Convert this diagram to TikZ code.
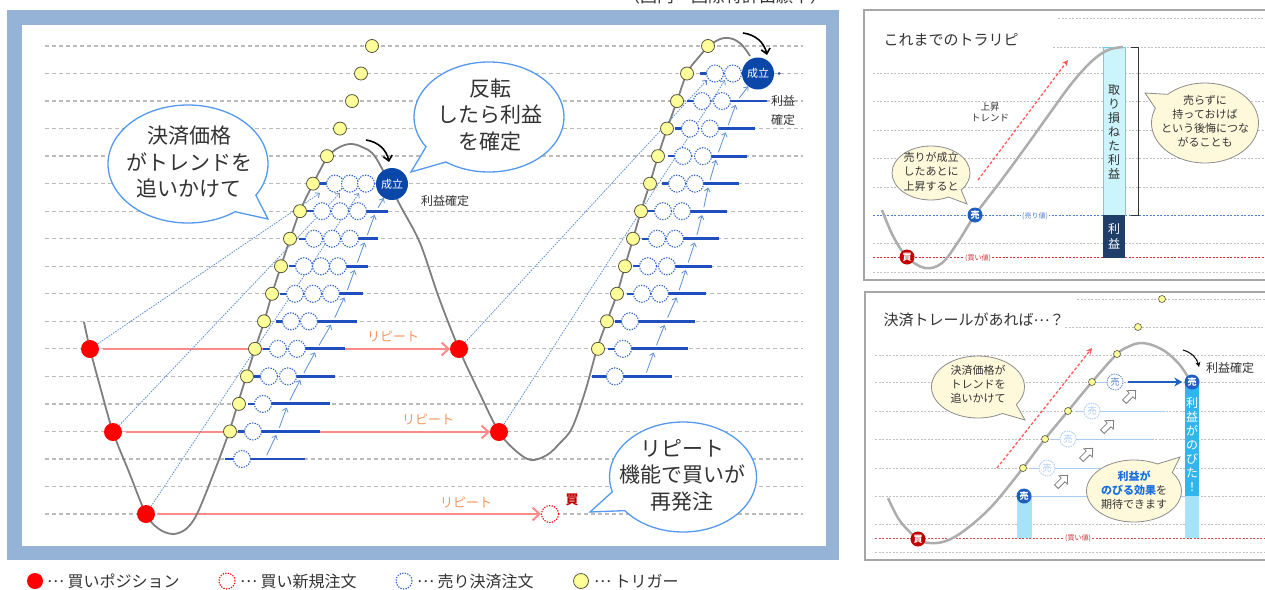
\documentclass[tikz,border=0pt]{standalone}
\usepackage{fontspec}
\setmainfont{Noto Sans CJK JP}
\usetikzlibrary{arrows.meta,shapes.callouts,shapes.arrows,shapes.geometric}
\definecolor{frameblue}{HTML}{95B3D7}
\definecolor{gridgray}{HTML}{BBBBBB}
\definecolor{curvegray}{HTML}{7F7F7F}
\definecolor{trigfill}{HTML}{FFFF99}
\definecolor{trigdraw}{HTML}{55553F}
\definecolor{buyred}{HTML}{FF0000}
\definecolor{replinecol}{HTML}{FF8A8A}
\definecolor{replabelcol}{HTML}{F5965E}
\definecolor{sellblue}{HTML}{2A62C8}
\definecolor{linblue}{HTML}{1F4FBF}
\definecolor{thinblue}{HTML}{5B8FD0}
\definecolor{seiritsucol}{HTML}{0A47A8}
\definecolor{bubbleline}{HTML}{5599EE}
\definecolor{textgray}{HTML}{333333}
\definecolor{panelgray}{HTML}{A6A6A6}
\definecolor{dotgray}{HTML}{C0C0C0}
\definecolor{pcurve}{HTML}{ADADAD}
\definecolor{kaired}{HTML}{C00000}
\definecolor{urblue}{HTML}{1F5FBF}
\definecolor{barlight}{HTML}{CCF4FC}
\definecolor{barlightdraw}{HTML}{66D0EE}
\definecolor{bardark}{HTML}{1F3F6A}
\definecolor{yelbub}{HTML}{FFF9DC}
\definecolor{bubdraw}{HTML}{8C8C8C}
\definecolor{cyanbar}{HTML}{30B6EC}
\definecolor{cyanlight}{HTML}{A6E2F8}
\definecolor{trailblue}{HTML}{A8CCF4}
\definecolor{hiblue}{HTML}{1A6FDF}
\definecolor{trendred}{HTML}{FF5A5A}
\newcommand\jdots{\raisebox{0.3em}{…}}
\begin{document}
\begin{tikzpicture}[x=1pt,y=-1pt,
  gridln/.style={draw=gridgray,line width=1.3pt,dash pattern=on 4pt off 3pt},
  crv/.style={draw=curvegray,line width=1.8pt},
  trg/.style={circle,fill=trigfill,draw=trigdraw,line width=0.8pt,minimum size=13pt,inner sep=0pt},
  buydot/.style={circle,fill=buyred,minimum size=18pt,inner sep=0pt},
  newbuy/.style={circle,draw=buyred,line width=1.1pt,dash pattern=on 1.3pt off 1.3pt,fill=white,minimum size=17pt,inner sep=0pt},
  sellc/.style={circle,draw=sellblue,line width=1.1pt,dash pattern=on 1.3pt off 1.3pt,fill=white,minimum size=17pt,inner sep=0pt},
  sellline/.style={draw=linblue,line width=2.8pt},
  selltick/.style={draw=linblue,line width=2.4pt},
  chainarrow/.style={draw=thinblue,line width=0.8pt,-{Straight Barb[length=3.5pt,width=6pt]},shorten <=4pt,shorten >=4pt},
  longdot/.style={draw=thinblue,line width=0.8pt,dash pattern=on 1.5pt off 1.2pt,-{Straight Barb[length=3.5pt,width=6pt]}},
  repln/.style={draw=replinecol,line width=2.6pt,-{Straight Barb[length=7pt,width=13pt,line width=2pt]}},
  replbl/.style={text=replabelcol,font=\fontsize{13}{14}\selectfont},
  seir/.style={circle,fill=seiritsucol,text=white,minimum size=32pt,inner sep=0pt,font=\fontsize{11}{12}\selectfont},
  blackarc/.style={draw=black,line width=1.6pt,-{Straight Barb[length=5pt,width=9pt]}},
  bub/.style={ellipse callout,draw=bubbleline,fill=white,line width=1.3pt,inner sep=0pt,callout pointer arc=22},
  bubtext/.style={align=center,text=textgray,font=\fontsize{21}{26.5}\selectfont,inner sep=0pt},
  legtext/.style={anchor=west,text=textgray,font=\fontsize{16}{18}\selectfont,inner sep=0pt},
  panelbox/.style={draw=panelgray,line width=2pt,fill=white},
  pdot/.style={draw=dotgray,line width=0.8pt,dash pattern=on 2pt off 1.5pt},
  pcrv/.style={draw=pcurve,line width=2.5pt},
  ybub/.style={ellipse callout,draw=bubdraw,fill=yelbub,line width=0.8pt,inner sep=0pt,callout pointer arc=24},
  ybtext/.style={align=center,text=textgray,font=\fontsize{11}{14.5}\selectfont,inner sep=0pt},
  kaic/.style={circle,fill=kaired,text=white,minimum size=15pt,inner sep=0pt,font=\fontsize{9}{9}\selectfont\bfseries},
  uric/.style={circle,fill=urblue,text=white,minimum size=15pt,inner sep=0pt,font=\fontsize{9}{9}\selectfont\bfseries},
  urdash/.style={circle,draw=trailblue,dash pattern=on 1.5pt off 1pt,line width=0.9pt,fill=white,text=trailblue,minimum size=16pt,inner sep=0pt,font=\fontsize{9}{9}\selectfont},
  trgs/.style={circle,fill=trigfill,draw=trigdraw,line width=0.6pt,minimum size=7pt,inner sep=0pt},
  vtext/.style={align=center,inner sep=0pt,font=\fontsize{12}{14}\selectfont},
  pricelbl/.style={fill=white,inner sep=1.5pt,font=\fontsize{7}{8}\selectfont},
  trendarr/.style={draw=trendred,line width=1.3pt,dash pattern=on 3pt off 2pt,-{Stealth[length=6pt,width=6pt]}},
  hollowarr/.style={draw=gray,fill=white,line width=0.8pt,line join=miter}
]
\useasboundingbox (0,0) rectangle (1265,589);
\fill[white] (0,0) rectangle (1265,589);
% caption (cut at top, as in the reference)
\node[font=\fontsize{17}{18}\selectfont,text=textgray] (cap) at (725,-4) {（国内・国際特許出願中）};
% ===== main frame =====
\fill[frameblue] (7,10) rectangle (839,560);
\fill[white] (22,25) rectangle (826,546);
\foreach \k in {0,...,17} \draw[gridln] (45,46+27.53*\k) -- (803,46+27.53*\k);
% positions
\coordinate (p1) at (90,349);
\coordinate (p2) at (113,432);
\coordinate (p3) at (146,514);
\coordinate (p4) at (459,349);
\coordinate (p5) at (499,432);
\coordinate (p6) at (550,514);
% repeat lines
\draw[repln,shorten <=13pt,shorten >=9pt] (p1) -- (p4);
\draw[repln,shorten <=13pt,shorten >=9pt] (p2) -- (p5);
\draw[repln,shorten <=12pt,shorten >=9pt] (p3) -- (p6);
\node[replbl] (rl1) at (393,336) {リピート};
\node[replbl] (rl2) at (428,419) {リピート};
\node[replbl] (rl3) at (466,502) {リピート};
% price curve
\draw[crv] plot[smooth,tension=0.55] coordinates {(84,322) (90,349) (101,390) (113,432) (129,472) (146,514) (159,529) (173,534) (186,529) (197,514) (213,475) (229,432) (242,390) (255,349) (264,322) (272,294) (281,266) (290,239) (300,211) (313,184) (327,158) (338,148) (350,144) (362,147) (376,158) (400,205) (420,243) (439,298) (459,349) (479,392) (499,432) (516,451) (531,460) (547,455) (560,443) (572,428) (585,392) (597,349) (607,321) (617,294) (625,266) (633,239) (641,211) (650,183) (658,156) (667,129) (677,101) (687,73) (698,58) (708,47) (716,41) (724,38) (733,39) (742,45) (750,56)};
% long dotted lines
\coordinate (e1) at (320,193);
\coordinate (e2) at (340,193);
\coordinate (e3) at (359,193);
\coordinate (e4) at (707,80);
\coordinate (e5) at (725,80);
\draw[longdot,shorten <=9pt] (p1) -- (e1);
\draw[longdot,shorten <=9pt] (p2) -- (e2);
\draw[longdot,shorten <=9pt] (p3) -- (e3);
\draw[longdot,shorten <=9pt] (p4) -- (e4);
\draw[longdot,shorten <=9pt] (p5) -- (e5);
% ===== wave 1 sell rows =====
\foreach \k/\a/\b in {6/358/388,7/350/378,8/338/368,9/331/363,10/309/357,11/297/345,12/288/335,13/263/330,14/253/320,15/242/305}{
  \coordinate (ls1-\k) at (\a,46+27.53*\k);
  \coordinate (le1-\k) at (\b,46+27.53*\k);
  \draw[sellline] (ls1-\k) -- (le1-\k);}
\foreach \k/\a in {5/335,6/322,7/314,8/304,9/295,10/291,11/278,12/269,13/263,14/253}{
  \coordinate (ts1-\k) at (\a-15,46+27.53*\k);
  \coordinate (te1-\k) at (\a-8,46+27.53*\k);
  \draw[selltick] (ts1-\k) -- (te1-\k);}
\coordinate (ts1-15) at (225,46+27.53*15);
\coordinate (te1-15) at (234,46+27.53*15);
\draw[selltick] (ts1-15) -- (te1-15);
\foreach \k/\x in {5/335,5/350,5/366,6/322,6/340,6/358,7/314,7/332,7/350,8/304,8/321,8/338,9/295,9/313,9/331,10/291,10/309,11/278,11/297,12/269,12/288,13/263,14/253,15/242}
  \node[sellc] (sc1-\k-\x) at (\x,46+27.53*\k) {};
% wave 2 sell rows
\foreach \k/\a/\b in {2/722/767,3/710/755,4/703/747,5/695/739,6/682/727,7/675/719,8/667/712,9/660/706,10/630/695,11/623/688,12/615/672}{
  \coordinate (ls2-\k) at (\a,46+27.53*\k);
  \coordinate (le2-\k) at (\b,46+27.53*\k);
  \draw[sellline] (ls2-\k) -- (le2-\k);}
\foreach \k/\a in {1/715,2/702,3/690,4/683,5/677,6/663,7/657,8/648,9/642,10/630,11/623}{
  \coordinate (ts2-\k) at (\a-15,46+27.53*\k);
  \coordinate (te2-\k) at (\a-8,46+27.53*\k);
  \draw[selltick] (ts2-\k) -- (te2-\k);}
\coordinate (ts2-12) at (592,46+27.53*12);
\coordinate (te2-12) at (607,46+27.53*12);
\draw[selltick] (ts2-12) -- (te2-12);
\foreach \k/\x in {1/715,1/733,2/702,2/722,3/690,3/710,4/683,4/703,5/677,5/695,6/663,6/682,7/657,7/675,8/648,8/667,9/642,9/660,10/630,11/623,12/615}
  \node[sellc] (sc2-\k-\x) at (\x,46+27.53*\k) {};
% seiritsu circles
\node[seir] (s1) at (392,184) {成立};
\node[seir] (s2) at (758,73.5) {成立};
\node[circle,fill=linblue,minimum size=3pt,inner sep=0pt] (sd2) at (779,73.5) {};
% chain arrows
\foreach \k/\x in {15/265,14/278,13/288,12/302,11/317,10/333,9/346,8/356,7/366,6/376}
  \coordinate (a1-\k) at (\x,46+27.53*\k);
\foreach \k/\kk in {15/14,14/13,13/12,12/11,11/10,10/9,9/8,8/7,7/6}
  \draw[chainarrow] (a1-\k) -- (a1-\kk);
\draw[chainarrow,shorten >=0pt] (a1-6) -- (s1);
\foreach \k/\x in {12/645,11/655,10/666,9/678,8/687,7/696,6/703,5/709,4/717,3/727,2/737}
  \coordinate (a2-\k) at (\x,46+27.53*\k);
\foreach \k/\kk in {12/11,11/10,10/9,9/8,8/7,7/6,6/5,5/4,4/3,3/2}
  \draw[chainarrow] (a2-\k) -- (a2-\kk);
\draw[chainarrow,shorten >=0pt] (a2-2) -- (s2);
% triggers
\foreach \k/\x in {0/372,1/361,2/352,3/340,4/327,5/313,6/300,7/290,8/281,9/272,10/264,11/255,12/247,13/239,14/230}
  \node[trg] (tg1-\k) at (\x,46+27.53*\k) {};
\foreach \k/\x in {0/708,1/687,2/677,3/667,4/658,5/650,6/641,7/633,8/625,9/617,10/607,11/598}
  \node[trg] (tg2-\k) at (\x,46+27.53*\k) {};
% buy positions
\node[buydot] (rp1) at (p1) {};
\node[buydot] (rp2) at (p2) {};
\node[buydot] (rp3) at (p3) {};
\node[buydot] (rp4) at (p4) {};
\node[buydot] (rp5) at (p5) {};
\node[newbuy] (rp6) at (p6) {};
\node[text=kaired,font=\fontsize{13}{14}\selectfont\bfseries] (kai) at (572,500) {買};
% black arcs and labels
\coordinate (ba1s) at (366,140);
\coordinate (ba1e) at (389,162);
\draw[blackarc] (ba1s) to[bend left=35] (ba1e);
\coordinate (ba2s) at (743,33);
\coordinate (ba2e) at (767,55);
\draw[blackarc] (ba2s) to[bend left=35] (ba2e);
\node[text=textgray,font=\fontsize{12}{13}\selectfont] (rk1) at (445,201) {利益確定};
\node[text=textgray,align=center,font=\fontsize{12}{19}\selectfont] (rk2) at (783,110) {利益\\確定};
% bubbles
\node[bub,minimum width=160pt,minimum height=118pt,callout absolute pointer={(268,219)}] (b1) at (188,164) {};
\node[bubtext] (b1t) at (189,162) {決済価格\\がトレンドを\\追いかけて};
\node[bub,minimum width=150pt,minimum height=110pt,callout absolute pointer={(411,172)}] (b2) at (489,117) {};
\node[bubtext] (b2t) at (490,115) {反転\\したら利益\\を確定};
\node[bub,minimum width=147pt,minimum height=110pt,callout absolute pointer={(590,512)}] (b3) at (683,477) {};
\node[bubtext] (b3t) at (682,475) {リピート\\機能で買いが\\再発注};
% legend
\node[buydot,minimum size=16pt] (lg1) at (35,581) {};
\node[legtext] (lg1t) at (47,581) {\jdots\ 買いポジション};
\node[newbuy,minimum size=16pt] (lg2) at (227,581) {};
\node[legtext] (lg2t) at (240,581) {\jdots\ 買い新規注文};
\node[sellc,minimum size=16pt] (lg3) at (404,581) {};
\node[legtext] (lg3t) at (417,581) {\jdots\ 売り決済注文};
\node[trg,minimum size=15pt] (lg4) at (581,581) {};
\node[legtext] (lg4t) at (594,581) {\jdots\ トリガー};
% ===== panel 1 =====
\draw[panelbox] (864,10) rectangle (1280,280);
\node[anchor=west,text=textgray,font=\fontsize{15}{16}\selectfont] (pt1) at (880,40) {これまでのトラリピ};
\foreach \y/\xs in {18/1058,47/1053,73/873,101/873,130/873,158/873,187/873,243/873,272/873}
  \draw[pdot] (\xs,\y) -- (1265,\y);
\draw[pdot,draw=urblue!80] (873,215) -- (1265,215);
\draw[pdot,draw=kaired!80] (873,257) -- (1265,257);
\node[pricelbl,text=urblue!80] (pl1) at (1035,216) {(売り値)};
\node[pricelbl,text=kaired!80] (pl2) at (978,258) {(買い値)};
\fill[barlight,draw=barlightdraw,line width=0.6pt] (1103,47) rectangle (1125,215);
\fill[bardark] (1103,215) rectangle (1125,258);
\node[vtext,text=textgray] (vt1) at (1114,132) {取\\り\\損\\ね\\た\\利\\益};
\node[vtext,text=white,font=\fontsize{12}{15}\selectfont] (vt2) at (1114,236) {利\\益};
\draw[draw=textgray,line width=0.6pt] (1131,47) -- (1138,47) -- (1138,215) -- (1131,215);
\draw[pcrv] plot[smooth,tension=0.6] coordinates {(882,210) (893,236) (907,257) (925,268) (942,263) (958,242) (975,215) (1000,182) (1025,148) (1050,113) (1072,83) (1092,61) (1108,50) (1123,47)};
\coordinate (tr1s) at (978,180);
\coordinate (tr1e) at (1068,60);
\draw[trendarr] (tr1s) -- (tr1e);
\node[align=center,text=textgray,font=\fontsize{9.5}{11}\selectfont] (jt) at (990,112) {上昇\\トレンド};
\node[kaic] (pk1) at (907,257) {買};
\node[uric] (pu1) at (975,215) {売};
\node[ybub,minimum width=78pt,minimum height=54pt,callout absolute pointer={(967,204)}] (yb1) at (931,173) {};
\node[ybtext] (yb1t) at (931,171.5) {売りが成立\\したあとに\\上昇すると};
\node[ybub,minimum width=107pt,minimum height=80pt,callout absolute pointer={(1145,93)}] (yb2) at (1205,123) {};
\node[ybtext,font=\fontsize{11}{14}\selectfont] (yb2t) at (1205,121) {売らずに\\持っておけば\\という後悔につな\\がることも};
% ===== panel 2 =====
\draw[panelbox] (865,292) rectangle (1280,560);
\node[anchor=west,text=textgray,font=\fontsize{15}{16}\selectfont] (pt2) at (880,320) {決済トレールがあれば\jdots ？};
\foreach \y/\xs in {299/1077,327/1065,355/875,382/875,411/875,439/875,468/875,496/875,524/875,552/875}
  \draw[pdot] (\xs,\y) -- (1265,\y);
\draw[pdot,draw=kaired!70] (875,538) -- (1265,538);
\node[pricelbl,text=kaired!80] (pl3) at (1078,538) {(買い値)};
\fill[cyanlight] (1017,496) rectangle (1032,538);
\fill[cyanbar] (1185,382) rectangle (1199,496);
\fill[cyanlight] (1185,496) rectangle (1199,538);
\node[vtext,text=white] (vt3) at (1192,445) {利\\益\\が\\の\\び\\た\\！};
% trail rows
\coordinate (tl1s) at (1024,496);
\coordinate (tl1e) at (1185,496);
\draw[draw=trailblue,line width=1pt] (tl1s) -- (tl1e);
\foreach \n/\y/\xa/\xb in {2/468/1030/1150,3/439/1052/1152,4/411/1075/1165}{
  \coordinate (tls-\n) at (\xa,\y);
  \coordinate (tle-\n) at (\xb,\y);
  \draw[draw=trailblue,line width=1pt] (tls-\n) -- (tle-\n);}
\coordinate (tls-5) at (1097,382);
\coordinate (tle-5) at (1123,382);
\draw[draw=trailblue,line width=1pt] (tls-5) -- (tle-5);
\draw[pcrv] plot[smooth,tension=0.6] coordinates {(888,498) (900,521) (918,539) (930,543) (946,541) (965,530) (992,506) (1023,468) (1045,439) (1068,411) (1092,382) (1117,354) (1130,346) (1140,343) (1152,345) (1166,352) (1179,364) (1188,377)};
\foreach \n/\x/\y in {1/1023/468,2/1045/439,3/1068/411,4/1092/382,5/1117/354,6/1138/327,7/1162/299}
  \node[trgs] (ys-\n) at (\x,\y) {};
\coordinate (tr2s) at (997,468);
\coordinate (tr2e) at (1092,348);
\draw[trendarr] (tr2s) -- (tr2e);
\node[urdash] (ud2) at (1047,468) {売};
\node[urdash] (ud3) at (1068,439) {売};
\node[urdash] (ud4) at (1092,411) {売};
\node[urdash,draw=urblue!70,text=urblue!80] (ud5) at (1115,382) {売};
% hollow up-right arrows
\foreach \x/\y in {1062/481,1087/454,1108/426,1130/396}{
  \begin{scope}[shift={(\x,\y)},rotate=45]
    \draw[hollowarr] (-8,-2.6) -- (1.5,-2.6) -- (1.5,-6) -- (8,0) -- (1.5,6) -- (1.5,2.6) -- (-8,2.6) -- cycle;
  \end{scope}}
\node[kaic] (pk2) at (918,539) {買};
\node[uric] (pu2) at (1024,496) {売};
\node[uric] (pu3) at (1192,382) {売};
\draw[draw=urblue,line width=2.4pt,-{Stealth[length=8pt,width=9pt]},shorten <=5pt,shorten >=2pt] (ud5) -- (pu3);
\coordinate (ba3s) at (1183,350);
\coordinate (ba3e) at (1199,367);
\draw[draw=black,line width=1pt,-{Stealth[length=5pt,width=5pt]}] (ba3s) to[bend left=30] (ba3e);
\node[text=textgray,font=\fontsize{12}{13}\selectfont] (rk3) at (1230,368) {利益確定};
\node[ybub,minimum width=93pt,minimum height=62pt,callout absolute pointer={(1025,420)}] (yb3) at (978,387) {};
\node[ybtext,font=\fontsize{11}{14}\selectfont] (yb3t) at (978,384.5) {決済価格が\\トレンドを\\追いかけて};
\node[ybub,minimum width=95pt,minimum height=62pt,callout absolute pointer={(1180,457)}] (yb4) at (1134,491) {};
\node[ybtext,font=\fontsize{11}{14}\selectfont] (yb4t) at (1134,490) {{\color{hiblue}\bfseries 利益が}\\{\color{hiblue}\bfseries のびる効果}を\\期待できます};
\end{tikzpicture}
\end{document}
